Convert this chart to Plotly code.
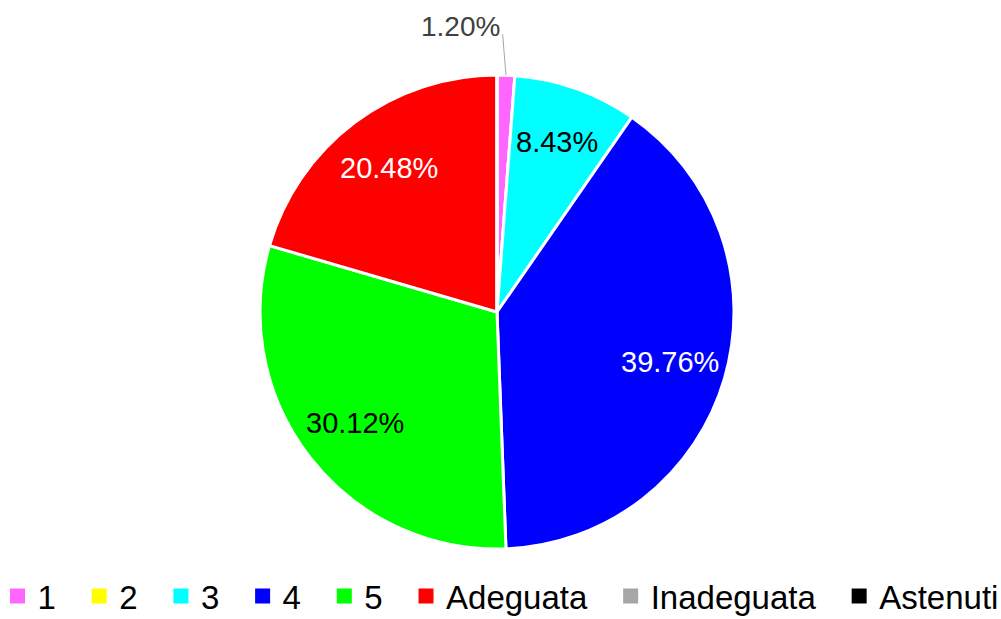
import math
import plotly.graph_objects as go

labels = ["1", "2", "3", "4", "5", "Adeguata", "Inadeguata", "Astenuti"]
counts = [1, 0, 7, 33, 25, 17, 0, 0]
colors = ["#FF66FF", "#FFFF00", "#00FFFF", "#0000FF", "#00FF00", "#FF0000", "#A6A6A6", "#000000"]
text_colors = ["#404040", "#000000", "#000000", "#FFFFFF", "#000000", "#FFFFFF", "#000000", "#000000"]

W, H = 1001, 619
dom_x = [0.2597, 0.7333]
dom_y = [0.1131, 0.8788]

fig = go.Figure()
fig.add_trace(go.Pie(
    labels=labels,
    values=counts,
    sort=False,
    direction="clockwise",
    rotation=0,
    marker=dict(colors=colors, line=dict(color="white", width=3)),
    textinfo="none",
    domain=dict(x=dom_x, y=dom_y),
    hoverinfo="label+percent",
    showlegend=False,
))

# legend-only entries with larger square keys
for i, (lab, col) in enumerate(zip(labels, colors)):
    name = lab if i == len(labels) - 1 else lab + "\u00a0\u00a0"
    fig.add_trace(go.Scatter(
        x=[None], y=[None], mode="markers", name=name,
        marker=dict(symbol="square", size=15, color=col),
        hoverinfo="skip",
    ))

# percentage labels computed from data
total = sum(counts)
cx = (dom_x[0] + dom_x[1]) / 2
cy = (dom_y[0] + dom_y[1]) / 2
r_px = (dom_x[1] - dom_x[0]) * W / 2
cum = 0
for i, v in enumerate(counts):
    if v == 0:
        continue
    mid = 2 * math.pi * (cum + v / 2) / total
    pct = f"{v / total:.2%}"
    if v / total < 0.03:
        ex = cx + r_px * math.sin(mid) / W
        ey = cy + r_px * math.cos(mid) / H
        fig.add_annotation(
            x=ex, y=ey, xref="paper", yref="paper",
            text=pct, showarrow=True, arrowhead=0, arrowwidth=1, arrowcolor="#A6A6A6",
            ax=-4, ay=-49, xanchor="right", yanchor="middle", startstandoff=8,
            font=dict(family="Liberation Sans", size=28, color=text_colors[i]),
        )
    else:
        rho = 0.76
        tx = cx + rho * r_px * math.sin(mid) / W
        ty = cy + rho * r_px * math.cos(mid) / H
        fig.add_annotation(
            x=tx, y=ty, xref="paper", yref="paper", text=pct, showarrow=False,
            xanchor="center", yanchor="middle",
            font=dict(family="Liberation Sans", size=29, color=text_colors[i]),
        )
    cum += v

fig.update_layout(
    width=W, height=H,
    margin=dict(l=0, r=0, t=0, b=0, autoexpand=False),
    paper_bgcolor="white",
    plot_bgcolor="white",
    xaxis=dict(visible=False),
    yaxis=dict(visible=False),
    font=dict(family="Liberation Sans", color="#000000"),
    legend=dict(
        orientation="h",
        x=0.5, xanchor="center",
        y=-0.008, yanchor="bottom",
        font=dict(family="Liberation Sans", size=33, color="#000000"),
        itemclick=False, itemdoubleclick=False,
    ),
)

fig.write_html("out.html", config={"displayModeBar": False},
               post_script="document.body.style.margin='0';")
